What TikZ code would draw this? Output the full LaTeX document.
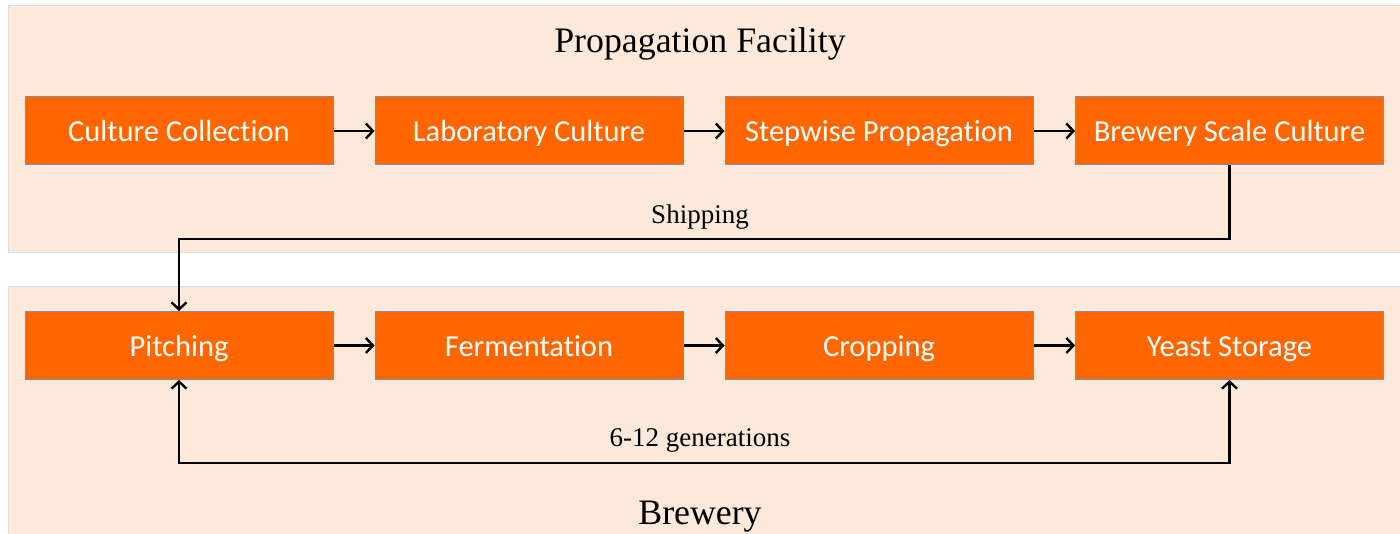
\documentclass[tikz,border=0pt]{standalone}
\usepackage{fontspec}
\setmainfont{Liberation Serif}
\newfontfamily\boxfont[Ligatures=NoCommon]{Carlito}
\usetikzlibrary{arrows.meta}
\definecolor{panelfill}{HTML}{FDE9DA}
\definecolor{paneledge}{HTML}{E2DBD6}
\definecolor{stepfill}{HTML}{FF6600}
\definecolor{stepedge}{HTML}{7F8FA9}
\begin{document}
\begin{tikzpicture}[x=1pt,y=-1pt,
  stepbox/.style={draw=stepedge, line width=1pt, fill=stepfill, text=white,
    minimum width=308pt, minimum height=68pt, inner sep=0pt,
    text height=24pt, text depth=2pt,
    font=\boxfont\fontsize{30.5}{32}\selectfont},
  flow/.style={line width=2.4pt, draw=black, line join=miter,
    -{Straight Barb[length=7pt,width=15pt,line width=2.4pt]}},
  flowboth/.style={line width=2.4pt, draw=black, line join=miter,
    {Straight Barb[length=7pt,width=15pt,line width=2.4pt]}-{Straight Barb[length=7pt,width=15pt,line width=2.4pt]}},
  heading/.style={font=\fontsize{35.8}{40}\selectfont, inner sep=0pt, anchor=base},
  tag/.style={font=\fontsize{27}{30}\selectfont, inner sep=0pt, anchor=base}]
\useasboundingbox (0,0) rectangle (1400,534);

% background panels
\fill[white] (0,0) rectangle (1400,534);
\filldraw[fill=panelfill, draw=paneledge, line width=0.8pt] (8,5) rectangle (1400,252);
\filldraw[fill=panelfill, draw=paneledge, line width=0.8pt] (8,286) rectangle (1400,534);

% headings
\node[heading] (propfac) at (700,53) {Propagation Facility};
\node[heading] (brew) at (700,524) {Brewery};

% propagation steps
\node[stepbox] (cc)  at (179,131)    {Culture Collection};
\node[stepbox] (lc)  at (529,131)    {Laboratory Culture};
\node[stepbox] (sp)  at (879,131)    {Stepwise Propagation};
\node[stepbox] (bsc) at (1229.5,131) {Brewery Scale Culture};

% brewery steps
\node[stepbox] (pit) at (179,345.5)    {Pitching};
\node[stepbox] (fer) at (529,345.5)    {Fermentation};
\node[stepbox] (cro) at (879,345.5)    {Cropping};
\node[stepbox] (ys)  at (1229.5,345.5) {Yeast Storage};

% connectors
\draw[flow] (cc) -- (lc);
\draw[flow] (lc) -- (sp);
\draw[flow] (sp) -- (bsc);
\draw[flow] (pit) -- (fer);
\draw[flow] (fer) -- (cro);
\draw[flow] (cro) -- (ys);

\coordinate (shipmid) at (700,239);
\draw[flow] (bsc.south) |- (shipmid) -| (pit.north);
\node[tag] (shiplbl) at (700,224) {Shipping};

\coordinate (loopmid) at (700,463);
\draw[flowboth] (pit.south) |- (loopmid) -| (ys.south);
\node[tag] (genlbl) at (700,446) {6-12 generations};
\end{tikzpicture}
\end{document}
